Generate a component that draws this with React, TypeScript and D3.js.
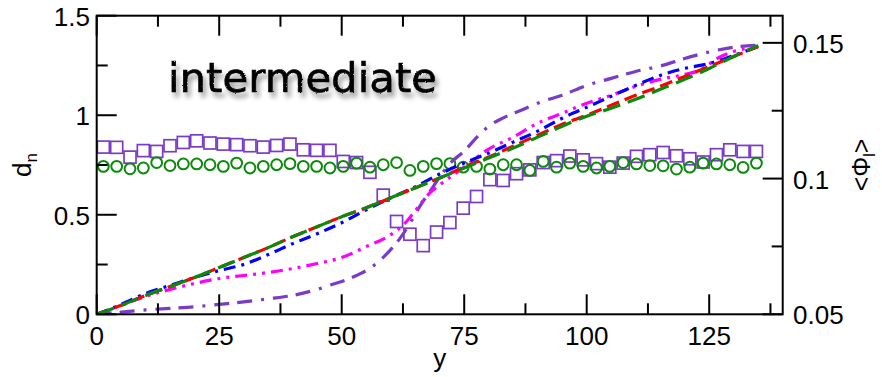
import React from "react";
import * as d3 from "d3";

// ---- data ----
const lineX = [0, 5, 10, 15, 20, 25, 30, 35, 40, 45, 50, 55, 60, 65, 70, 75, 80, 85, 90, 95, 100, 105, 110, 115, 120, 125, 130, 135];
const redD = [0, 0.045, 0.095, 0.14, 0.185, 0.235, 0.285, 0.335, 0.39, 0.44, 0.49, 0.535, 0.585, 0.635, 0.685, 0.74, 0.79, 0.845, 0.9, 0.955, 1.0, 1.05, 1.1, 1.145, 1.195, 1.245, 1.295, 1.345];
const greenD = [0, 0.045, 0.095, 0.14, 0.185, 0.235, 0.285, 0.335, 0.39, 0.44, 0.49, 0.535, 0.585, 0.635, 0.685, 0.735, 0.785, 0.835, 0.89, 0.945, 0.995, 1.035, 1.08, 1.13, 1.18, 1.235, 1.295, 1.35];
const blueD = [0, 0.05, 0.105, 0.145, 0.185, 0.22, 0.25, 0.3, 0.355, 0.405, 0.46, 0.525, 0.585, 0.64, 0.705, 0.76, 0.81, 0.865, 0.92, 0.985, 1.04, 1.095, 1.15, 1.2, 1.235, 1.26, 1.3, 1.345];

const magentaX = [0, 5, 10, 15, 20, 25, 30, 35, 40, 45, 50, 55, 60, 63, 65, 68, 70, 75, 80, 85, 90, 95, 100, 105, 110, 115, 120, 123, 127, 130, 135];
const magentaD = [0, 0.045, 0.09, 0.125, 0.155, 0.18, 0.195, 0.21, 0.23, 0.255, 0.285, 0.34, 0.4, 0.46, 0.52, 0.61, 0.65, 0.74, 0.83, 0.89, 0.96, 1.01, 1.06, 1.1, 1.145, 1.18, 1.205, 1.225, 1.29, 1.32, 1.345];

const purpleX = [0, 5, 10, 15, 20, 25, 30, 35, 40, 45, 48, 50, 53, 56, 58, 60, 62, 64, 66, 68, 70, 72, 75, 78, 80, 83, 87, 91, 95, 100, 105, 110, 115, 120, 125, 130, 135];
const purpleD = [0, 0.011, 0.022, 0.03, 0.038, 0.05, 0.062, 0.078, 0.095, 0.125, 0.15, 0.165, 0.195, 0.235, 0.275, 0.325, 0.385, 0.46, 0.545, 0.617, 0.69, 0.755, 0.82, 0.9, 0.945, 0.987, 1.029, 1.07, 1.1, 1.15, 1.185, 1.22, 1.247, 1.285, 1.318, 1.342, 1.352];

const markerX = [1.36, 4.08, 6.8, 9.52, 12.24, 14.96, 17.68, 20.4, 23.12, 25.84, 28.56, 31.28, 34, 36.72, 39.44, 42.16, 44.88, 47.6, 50.32, 53.04, 55.76, 58.48, 61.2, 63.92, 66.64, 69.36, 72.08, 74.8, 77.52, 80.24, 82.96, 85.68, 88.4, 91.12, 93.84, 96.56, 99.28, 102, 104.72, 107.44, 110.16, 112.88, 115.6, 118.32, 121.04, 123.76, 126.48, 129.2, 131.92, 134.64];
const squarePhi = [0.1116, 0.1115, 0.1079, 0.1103, 0.11, 0.1121, 0.1133, 0.1139, 0.1131, 0.1127, 0.1125, 0.1121, 0.1116, 0.1122, 0.1127, 0.1106, 0.1104, 0.1104, 0.1063, 0.1059, 0.1023, 0.0939, 0.0842, 0.0795, 0.0753, 0.0803, 0.0838, 0.0891, 0.0934, 0.0996, 0.0993, 0.1018, 0.1032, 0.1059, 0.1066, 0.1083, 0.1069, 0.1055, 0.1042, 0.1057, 0.1082, 0.1088, 0.1096, 0.1084, 0.1073, 0.1061, 0.1088, 0.1106, 0.11, 0.11];
const circlePhi = [0.1045, 0.1045, 0.1036, 0.1039, 0.1059, 0.1048, 0.1054, 0.1054, 0.1051, 0.1045, 0.1057, 0.1039, 0.1045, 0.1051, 0.1055, 0.1045, 0.1045, 0.1039, 0.1045, 0.1057, 0.1042, 0.1051, 0.1059, 0.103, 0.1045, 0.1055, 0.1055, 0.1042, 0.1045, 0.1035, 0.1051, 0.1051, 0.103, 0.1063, 0.1042, 0.1057, 0.1045, 0.1039, 0.1045, 0.1059, 0.1054, 0.1048, 0.1047, 0.1035, 0.1042, 0.1057, 0.1054, 0.1051, 0.1041, 0.1057];

const xTicks = [0, 25, 50, 75, 100, 125];
const xMinor = [12.5, 37.5, 62.5, 87.5, 112.5, 137.5];
const yLTicks = [0, 0.5, 1, 1.5];
const yLMinor = [0.25, 0.75, 1.25];
const yRTicks = [0.05, 0.1, 0.15];
const yRMinor = [0.075, 0.125];

const PURPLE = "#7a3cc6";
const GREEN = "#0b8a0b";

export default function App() {
  const W = 882, H = 377;
  const L = 96.7, R = 782.7, T = 15.7, B = 314.3;
  const x = d3.scaleLinear().domain([0, 140]).range([L, R]);
  const yl = d3.scaleLinear().domain([0, 1.5]).range([B, T]);
  const yr = d3.scaleLinear().domain([0.05, 0.16]).range([B, T]);

  const mk = (xs: number[], ds: number[]) =>
    d3.line<number>().x((_, i) => x(xs[i])).y((d) => yl(d)).curve(d3.curveMonotoneX)(ds) || "";

  const series = [
    { xs: purpleX, ds: purpleD, color: PURPLE, dash: "15,8,15,9,3,9" },
    { xs: magentaX, ds: magentaD, color: "#ff00ff", dash: "12,6,3,6,3,6" },
    { xs: lineX, ds: blueD, color: "#0000ff", dash: "12,6,3,6" },
    { xs: lineX, ds: redD, color: "#ff0000", dash: "13,6" },
    { xs: lineX, ds: greenD, color: GREEN, dash: "18,8" },
  ];

  const font = "'Liberation Sans', Arial, Helvetica, sans-serif";
  const fs = 26;
  const MAJ = 20, MIN = 11;

  return (
    <svg width={W} height={H} style={{ position: "absolute", left: 0, top: 0, background: "#fff" }} fontFamily={font}>
      <defs>
        <filter id="chalk" x="-10%" y="-40%" width="125%" height="190%">
          <feTurbulence type="fractalNoise" baseFrequency="0.9" numOctaves="2" seed="3" result="noise" />
          <feDisplacementMap in="SourceGraphic" in2="noise" scale="2" xChannelSelector="R" yChannelSelector="G" result="rough" />
          <feGaussianBlur in="rough" stdDeviation="2.6" result="blur" />
          <feOffset in="blur" dx="3" dy="5" result="off" />
          <feComponentTransfer in="off" result="shadow">
            <feFuncA type="linear" slope="0.4" />
          </feComponentTransfer>
          <feMerge>
            <feMergeNode in="shadow" />
            <feMergeNode in="rough" />
          </feMerge>
        </filter>
        <clipPath id="plotclip">
          <rect x={L} y={T} width={R - L} height={B - T} />
        </clipPath>
      </defs>

      {/* markers */}
      <g clipPath="url(#plotclip)">
        {markerX.map((mx, i) => (
          <rect key={"s" + i} x={x(mx) - 6} y={yr(squarePhi[i]) - 6} width={12} height={12} fill="none" stroke={PURPLE} strokeWidth={1.7} />
        ))}
        {markerX.map((mx, i) => (
          <circle key={"c" + i} cx={x(mx)} cy={yr(circlePhi[i])} r={5.4} fill="none" stroke={GREEN} strokeWidth={2} />
        ))}
        {series.map((s, i) => (
          <path key={"l" + i} d={mk(s.xs, s.ds)} fill="none" stroke={s.color} strokeWidth={3.2} strokeDasharray={s.dash} />
        ))}
      </g>

      {/* frame */}
      <rect x={L} y={T} width={R - L} height={B - T} fill="none" stroke="#000" strokeWidth={2} />

      {/* x ticks bottom and top */}
      {xTicks.map((t) => (
        <g key={"xt" + t}>
          <line x1={x(t)} x2={x(t)} y1={B} y2={B - MAJ} stroke="#000" strokeWidth={2} />
          <line x1={x(t)} x2={x(t)} y1={T} y2={T + MAJ} stroke="#000" strokeWidth={2} />
          <text x={x(t)} y={B + 31} textAnchor="middle" fontSize={fs}>{t}</text>
        </g>
      ))}
      {xMinor.map((t) => (
        <g key={"xm" + t}>
          <line x1={x(t)} x2={x(t)} y1={B} y2={B - MIN} stroke="#000" strokeWidth={2} />
          <line x1={x(t)} x2={x(t)} y1={T} y2={T + MIN} stroke="#000" strokeWidth={2} />
        </g>
      ))}

      {/* left ticks */}
      {yLTicks.map((t) => (
        <g key={"yl" + t}>
          <line x1={L} x2={L + MAJ} y1={yl(t)} y2={yl(t)} stroke="#000" strokeWidth={2} />
          <text x={90} y={yl(t) + 10} textAnchor="end" fontSize={fs}>{t}</text>
        </g>
      ))}
      {yLMinor.map((t) => (
        <line key={"ylm" + t} x1={L} x2={L + MIN} y1={yl(t)} y2={yl(t)} stroke="#000" strokeWidth={2} />
      ))}

      {/* right ticks */}
      {yRTicks.map((t) => (
        <g key={"yr" + t}>
          <line x1={R} x2={R - MAJ} y1={yr(t)} y2={yr(t)} stroke="#000" strokeWidth={2} />
          <text x={793} y={yr(t) + 10} textAnchor="start" fontSize={fs}>{t}</text>
        </g>
      ))}
      {yRMinor.map((t) => (
        <line key={"yrm" + t} x1={R} x2={R - MIN} y1={yr(t)} y2={yr(t)} stroke="#000" strokeWidth={2} />
      ))}

      {/* axis titles */}
      <text x={(L + R) / 2} y={367} textAnchor="middle" fontSize={fs}>y</text>
      <text transform={`translate(31,${(T + B) / 2}) rotate(-90)`} textAnchor="middle" fontSize={fs}>
        d<tspan fontSize={17} dy={6}>n</tspan>
      </text>
      <text transform={`translate(870,${(T + B) / 2}) rotate(-90)`} textAnchor="middle" fontSize={25}>
        {"<Φ"}<tspan fontSize={16} dy={5}>l</tspan><tspan dy={-5}>{">"}</tspan>
      </text>

      {/* annotation */}
      <text x={168} y={92} fontFamily="'DejaVu Sans', sans-serif" fontSize={40} fill="#000" stroke="#000" strokeWidth={0.6} textLength={269} lengthAdjust="spacingAndGlyphs" filter="url(#chalk)">
        intermediate
      </text>
    </svg>
  );
}
